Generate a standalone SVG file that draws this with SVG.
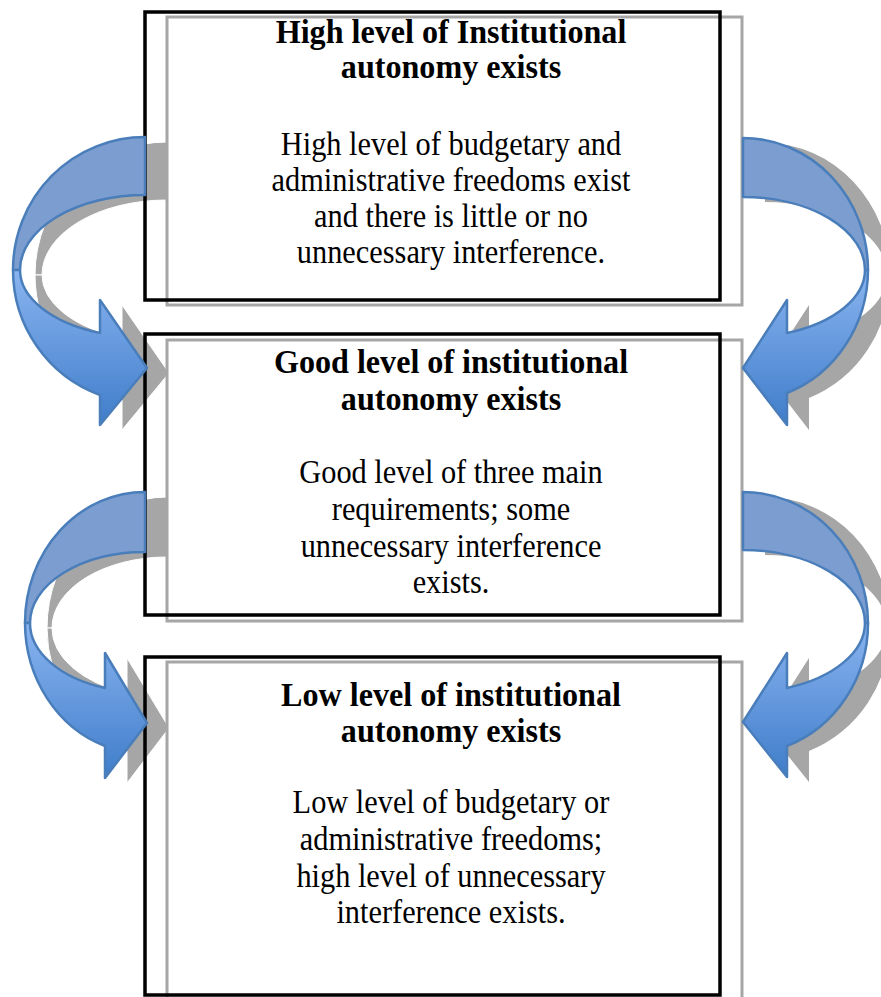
<svg xmlns="http://www.w3.org/2000/svg" xmlns:xlink="http://www.w3.org/1999/xlink" width="881" height="997" viewBox="0 0 881 997">
  <style>
    .box { fill: none; stroke: #000; stroke-width: 3.5; }
    .boxShadow { fill: none; stroke: #a6a6a6; stroke-width: 3; }
    .title { font-family: "Liberation Serif", "Times New Roman", serif; font-size: 34px; font-weight: bold; text-anchor: middle; fill: #000; }
    .body { font-family: "Liberation Serif", "Times New Roman", serif; font-size: 33px; text-anchor: middle; fill: #000; }
    .back { fill: #7c9dcf; stroke: #4a7ebb; stroke-width: 2.5; stroke-linejoin: round; }
    .front { fill: url(#frontGrad); stroke: #4a7ebb; stroke-width: 2.5; stroke-linejoin: round; }
    .shadowL { fill: #a6a6a6; stroke: #fff; stroke-width: 1; }
    .shadowR { fill: #a6a6a6; stroke: none; }
  </style>
  <defs>
    <linearGradient id="frontGrad" x1="0" y1="0" x2="0" y2="1">
      <stop offset="0" stop-color="#8ab4f0"/>
      <stop offset="1" stop-color="#3f7dca"/>
    </linearGradient>
    <!-- curved arrows: back band + front band with head -->
    <path id="l1b" d="M145,137 A132,133 0 0 0 13,270 L20,270 A125,75 0 0 1 145,195 Z"/>
    <path id="l1f" d="M13,270 A132,133 0 0 0 100,395 L100,425 L147,368 L100,300 L100,333 A125,67.5 0 0 1 20,270 Z"/>
    <path id="l2b" d="M145,492 A120,131 0 0 0 25,623 L30,623 A115,71 0 0 1 145,552 Z"/>
    <path id="l2f" d="M25,623 A120,131 0 0 0 105,746 L105,778 L147,723 L105,653 L105,688 A115,69 0 0 1 30,623 Z"/>
    <path id="r1b" d="M743,138 A125,132 0 0 1 868,270 L865,270 A122,73 0 0 0 743,197 Z"/>
    <path id="r1f" d="M868,270 A125,132 0 0 1 787,393 L787,425 L743,368 L787,300 L787,333 A122,67.5 0 0 0 865,270 Z"/>
    <path id="r2b" d="M743,492 A125,131 0 0 1 868,623 L865,623 A122,73 0 0 0 743,550 Z"/>
    <path id="r2f" d="M868,623 A125,131 0 0 1 787,746 L787,777 L743,722 L787,653 L787,688 A122,69.7 0 0 0 865,623 Z"/>
  </defs>

  <!-- arrow shadows -->
  <g id="arrow-shadows" transform="translate(22,5)">
    <use xlink:href="#l1b" class="shadowL"/>
    <use xlink:href="#l1f" class="shadowL"/>
    <use xlink:href="#l2b" class="shadowL"/>
    <use xlink:href="#l2f" class="shadowL"/>
    <use xlink:href="#r1b" class="shadowR"/>
    <use xlink:href="#r1f" class="shadowR"/>
    <use xlink:href="#r2b" class="shadowR"/>
    <use xlink:href="#r2f" class="shadowR"/>
  </g>

  <g id="node-high">
    <rect class="boxShadow" x="167" y="17" width="575" height="288"/>
    <rect class="box" x="145" y="12" width="575" height="288"/>
    <g transform="translate(451,0) scale(0.945,1)">
      <text class="title" x="0" y="43">High level of Institutional</text>
      <text class="title" x="0" y="78">autonomy exists</text>
    </g>
    <g transform="translate(451,0) scale(0.92,1)">
      <text class="body" x="0" y="155">High level of budgetary and</text>
      <text class="body" x="0" y="191">administrative freedoms exist</text>
      <text class="body" x="0" y="227">and there is little or no</text>
      <text class="body" x="0" y="263">unnecessary interference.</text>
    </g>
  </g>

  <g id="node-good">
    <rect class="boxShadow" x="167" y="340" width="575" height="281"/>
    <rect class="box" x="145" y="334" width="575" height="281"/>
    <g transform="translate(451,0) scale(0.945,1)">
      <text class="title" x="0" y="373">Good level of institutional</text>
      <text class="title" x="0" y="410">autonomy exists</text>
    </g>
    <g transform="translate(451,0) scale(0.92,1)">
      <text class="body" x="0" y="483">Good level of three main</text>
      <text class="body" x="0" y="520">requirements; some</text>
      <text class="body" x="0" y="557">unnecessary interference</text>
      <text class="body" x="0" y="593">exists.</text>
    </g>
  </g>

  <g id="node-low">
    <rect class="boxShadow" x="167" y="662" width="575" height="345"/>
    <rect class="box" x="145" y="657" width="575" height="338"/>
    <g transform="translate(451,0) scale(0.945,1)">
      <text class="title" x="0" y="706">Low level of institutional</text>
      <text class="title" x="0" y="742">autonomy exists</text>
    </g>
    <g transform="translate(451,0) scale(0.92,1)">
      <text class="body" x="0" y="813">Low level of budgetary or</text>
      <text class="body" x="0" y="850">administrative freedoms;</text>
      <text class="body" x="0" y="887">high level of unnecessary</text>
      <text class="body" x="0" y="923">interference exists.</text>
    </g>
  </g>

  <!-- curved connectors -->
  <g id="connectors">
    <use xlink:href="#l1b" class="back"/>
    <use xlink:href="#l1f" class="front"/>
    <use xlink:href="#l2b" class="back"/>
    <use xlink:href="#l2f" class="front"/>
    <use xlink:href="#r1b" class="back"/>
    <use xlink:href="#r1f" class="front"/>
    <use xlink:href="#r2b" class="back"/>
    <use xlink:href="#r2f" class="front"/>
  </g>
</svg>
